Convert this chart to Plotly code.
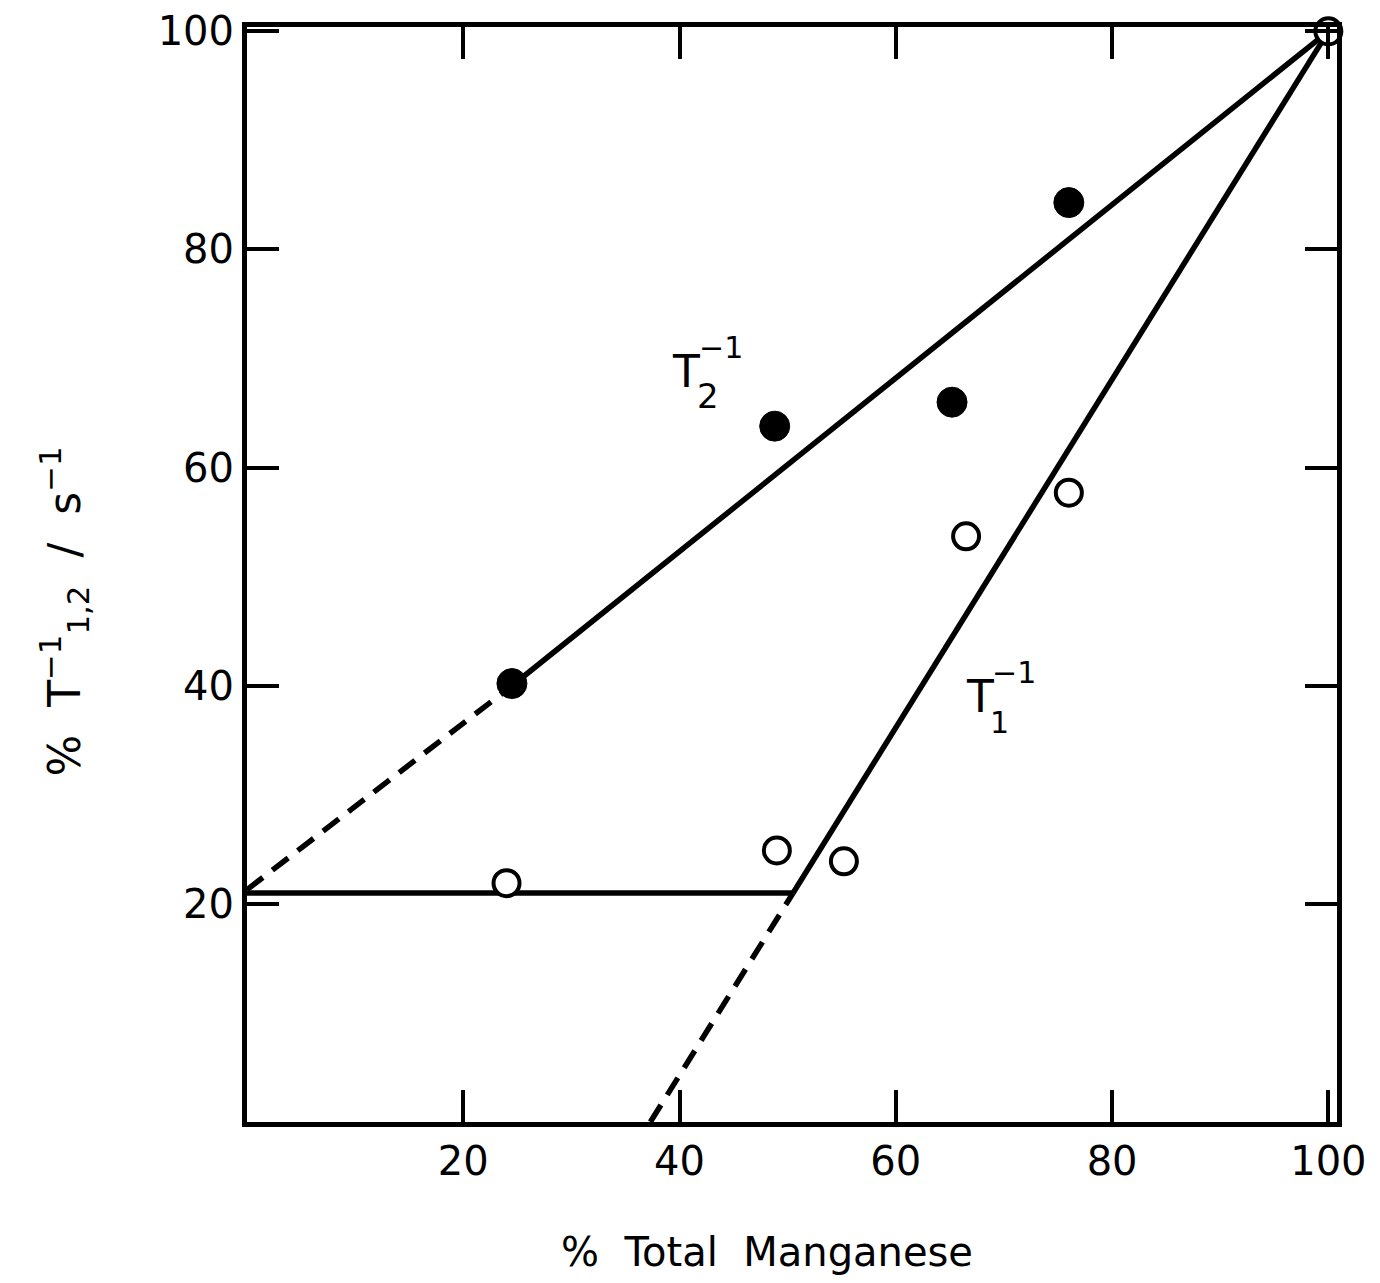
import plotly.graph_objects as go

# Data
t2_x = [24.5, 48.8, 65.2, 76.0]
t2_y = [40.2, 63.8, 66.0, 84.3]
t1_x = [24.0, 49.0, 55.2, 66.5, 76.0, 100.0]
t1_y = [21.9, 24.9, 23.9, 53.7, 57.7, 100.0]

# Fitted lines (vertices)
t2_solid_x = [24.5, 100.0]
t2_solid_y = [40.0, 100.0]
t2_dash_x = [0.0, 24.5]
t2_dash_y = [21.3, 40.0]
flat_x = [0.0, 50.5]
flat_y = [21.0, 21.0]
t1_solid_x = [50.5, 100.0]
t1_solid_y = [21.0, 100.0]
t1_dash_x = [37.3, 50.5]
t1_dash_y = [0.0, 21.0]

tick_vals = [20, 40, 60, 80, 100]
tick_text = ["20", "40", "60", "80", "100"]

FONT = "DejaVu Sans"
LW = 5.5

fig = go.Figure()

def line(x, y, dash="solid"):
    fig.add_trace(go.Scatter(x=x, y=y, mode="lines",
                             line=dict(color="black", width=LW, dash=dash),
                             showlegend=False, hoverinfo="skip"))

line(t2_solid_x, t2_solid_y)
line(t2_dash_x, t2_dash_y, "20px,12px")
line(flat_x, flat_y)
line(t1_solid_x, t1_solid_y)
line(t1_dash_x, t1_dash_y, "20px,12px")

fig.add_trace(go.Scatter(x=t2_x, y=t2_y, mode="markers",
                         marker=dict(symbol="circle", size=30, color="black",
                                     line=dict(color="black", width=1)),
                         showlegend=False))
fig.add_trace(go.Scatter(x=t1_x, y=t1_y, mode="markers",
                         marker=dict(symbol="circle", size=26, color="white",
                                     line=dict(color="black", width=4)),
                         showlegend=False, cliponaxis=False))

axis_common = dict(
    showgrid=False, zeroline=False, showline=True, linecolor="black", linewidth=5,
    mirror="ticks", ticks="inside", ticklen=32, tickwidth=4, tickcolor="black",
    tickvals=tick_vals, ticktext=tick_text, automargin=False,
    tickfont=dict(family=FONT, size=40, color="black"),
)

fig.update_xaxes(range=[0, 100.8], **axis_common)
fig.update_yaxes(range=[0, 100.4], **axis_common)

annotations = [
    # T2 label
    dict(x=40.6, y=68.8, text="T", font=dict(size=44)),
    dict(x=42.6, y=66.6, text="2", font=dict(size=34)),
    dict(x=43.8, y=71.0, text="−1", font=dict(size=30)),
    # T1 label
    dict(x=67.8, y=39.0, text="T", font=dict(size=44)),
    dict(x=69.6, y=36.6, text="1", font=dict(size=30)),
    dict(x=70.9, y=41.2, text="−1", font=dict(size=30)),
]
for a in annotations:
    a.update(xref="x", yref="y", showarrow=False)
    a["font"].update(family=FONT, color="black")

annotations.append(dict(
    xref="paper", yref="paper", x=0.477, y=-0.119, showarrow=False,
    text="%  Total  Manganese", font=dict(family=FONT, size=40, color="black"),
    xanchor="center", yanchor="middle"))
annotations.append(dict(
    xref="paper", yref="paper", x=-0.168, y=0.466, showarrow=False, textangle=-90,
    text="%  T<sup>−1</sup><sub>1,2</sub>  /  s<sup>−1</sup>",
    font=dict(family=FONT, size=44, color="black"),
    xanchor="center", yanchor="middle"))

fig.update_layout(
    width=1364, height=1267,
    margin=dict(l=239, r=35, t=19, b=153),
    plot_bgcolor="white", paper_bgcolor="white",
    annotations=annotations,
)

fig.write_html("out.html")
